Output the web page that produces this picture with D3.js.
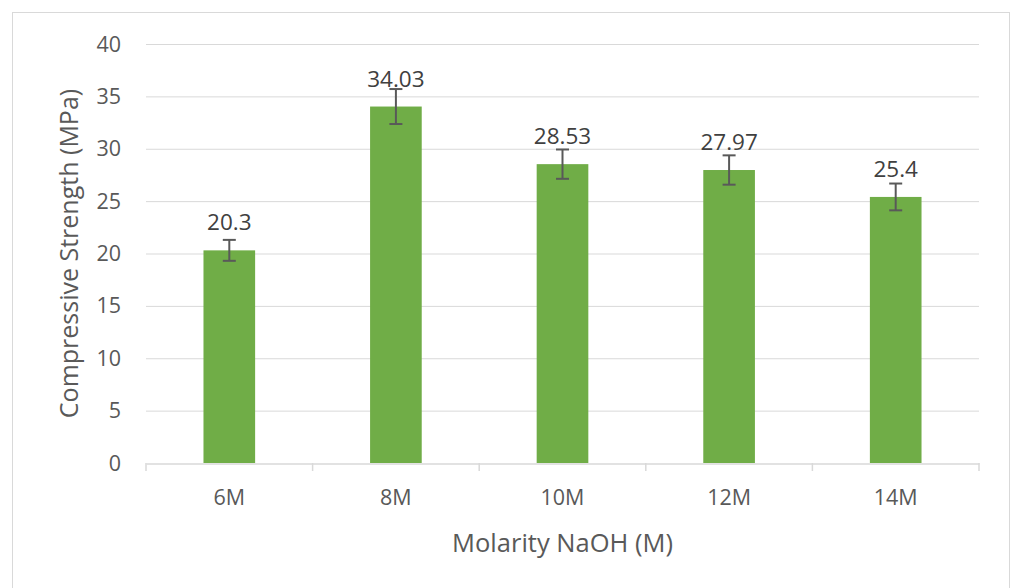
<!DOCTYPE html>
<html><head><meta charset="utf-8">
<script src="https://cdn.jsdelivr.net/npm/d3@7"></script>
<style>
html,body{margin:0;padding:0;background:#fff;}
svg{display:block;}
text{font-family:"Open Sans","Lato",sans-serif;}
</style></head>
<body>
<script>
const categories = ["6M","8M","10M","12M","14M"];
const values = [20.3, 34.03, 28.53, 27.97, 25.4];
const errors = [1.0, 1.67, 1.4, 1.4, 1.28];
const yTicks = [0,5,10,15,20,25,30,35,40];
const xTitle = "Molarity NaOH (M)";
const yTitle = "Compressive Strength (MPa)";

(function(){
const W = 1013, H = 588;
const svg = d3.select("body").append("svg").attr("width", W).attr("height", H);
svg.append("rect").attr("x",12.5).attr("y",12.5).attr("width",997).attr("height",600)
  .attr("fill","#fff").attr("stroke","#d9d9d9").attr("stroke-width",1);

const pL = 146, pR = 979, pT = 44, pB = 463;
const x = d3.scaleBand().domain(categories).range([pL,pR]).paddingInner(0.69).paddingOuter(0.345);
const xb = d3.scaleBand().domain(categories).range([pL,pR]);
const y = d3.scaleLinear().domain([0,40]).range([pB,pT]);

svg.append("g").selectAll("line").data(yTicks.filter(d=>d>0)).join("line")
  .attr("x1",pL).attr("x2",pR).attr("y1",d=>y(d)+0.5).attr("y2",d=>y(d)+0.5)
  .attr("stroke","#d9d9d9").attr("stroke-width",1);

svg.append("g").selectAll("text").data(yTicks).join("text")
  .attr("x",121).attr("y",d=>y(d)).attr("dy","0.35em").attr("text-anchor","end")
  .attr("font-size",21.5).attr("fill","#595959").text(d=>d);

svg.append("g").selectAll("rect").data(values).join("rect")
  .attr("x",(d,i)=>x(categories[i])).attr("width",x.bandwidth())
  .attr("y",d=>y(d)).attr("height",d=>pB-y(d)).attr("fill","#70ad47");

const xAxis = d3.axisBottom(xb).tickSize(0).tickFormat("");
const ax = svg.append("g").attr("transform",`translate(0,${pB+0.5})`).call(xAxis);
ax.select(".domain").attr("stroke","#d9d9d9").attr("stroke-width",1.5);
const bounds = categories.map(c=>xb(c)).concat([pR]);
svg.append("g").selectAll("line").data(bounds).join("line")
  .attr("x1",d=>d).attr("x2",d=>d).attr("y1",pB).attr("y2",pB+8)
  .attr("stroke","#d9d9d9").attr("stroke-width",1.5);

svg.append("g").selectAll("text").data(categories).join("text")
  .attr("x",d=>xb(d)+xb.bandwidth()/2).attr("y",497).attr("dy","0.35em")
  .attr("text-anchor","middle").attr("font-size",21.5).attr("fill","#595959").text(d=>d);

const eb = svg.append("g").attr("stroke","#595959").attr("stroke-width",2).attr("fill","none");
values.forEach((v,i)=>{
  const cx = x(categories[i]) + x.bandwidth()/2;
  const y1 = y(v+errors[i]), y2 = y(v-errors[i]);
  eb.append("line").attr("x1",cx).attr("x2",cx).attr("y1",y1).attr("y2",y2);
  eb.append("line").attr("x1",cx-6.5).attr("x2",cx+6.5).attr("y1",y1).attr("y2",y1);
  eb.append("line").attr("x1",cx-6.5).attr("x2",cx+6.5).attr("y1",y2).attr("y2",y2);
});

svg.append("g").selectAll("text").data(values).join("text")
  .attr("x",(d,i)=>x(categories[i])+x.bandwidth()/2)
  .attr("y",d=>y(d)-20)
  .attr("text-anchor","middle").attr("font-size",22.5).attr("fill","#404040").text(d=>d);

svg.append("text").attr("x",(pL+pR)/2).attr("y",543).attr("dy","0.35em")
  .attr("text-anchor","middle").attr("font-size",25.5).attr("fill","#595959").text(xTitle);
svg.append("text").attr("transform",`translate(69,${(pT+pB)/2}) rotate(-90)`)
  .attr("dy","0.35em").attr("text-anchor","middle").attr("font-size",25).attr("fill","#595959").text(yTitle);
})();
</script>
</body></html>
